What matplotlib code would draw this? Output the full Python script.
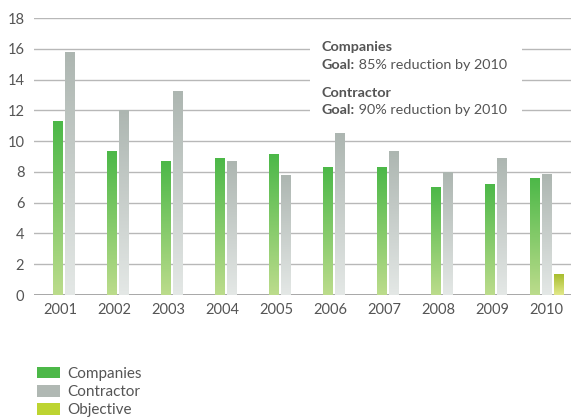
import matplotlib
matplotlib.use("Agg")
import matplotlib.pyplot as plt
import numpy as np
from matplotlib.colors import LinearSegmentedColormap
from matplotlib.patches import Patch, Rectangle

plt.rcParams["font.family"] = ["Lato", "DejaVu Sans"]

years = ["2001", "2002", "2003", "2004", "2005", "2006", "2007", "2008", "2009", "2010"]
companies = [11.25, 9.35, 8.65, 8.9, 9.15, 8.3, 8.3, 7.0, 7.2, 7.55]
contractor = [15.75, 12.0, 13.25, 8.65, 7.75, 10.5, 9.35, 7.95, 8.9, 7.85]
objective = [None, None, None, None, None, None, None, None, None, 1.3]
yticks = [0, 2, 4, 6, 8, 10, 12, 14, 16, 18]

# top colour -> bottom colour for each series, plus the flat legend colour
SERIES_STYLE = {
    "Companies": ("#4cb848", "#bcdc8c", "#4cb848"),
    "Contractor": ("#adb6b1", "#e4e8e6", "#b0b8b3"),
    "Objective": ("#a8be2e", "#e2e88a", "#bdd431"),
}

TEXT = "#555555"
GRID = "#b8b8b8"

fig = plt.figure(figsize=(5.71, 4.2), dpi=100)
ax = fig.add_axes([34 / 571, 0.2976, 537 / 571, 0.6594])

width = 0.167
step = 0.222

bars = []
for i, yr in enumerate(years):
    vals = [("Companies", companies[i]), ("Contractor", contractor[i])]
    if objective[i] is not None:
        vals.append(("Objective", objective[i]))
        offsets = [-step, 0, step]
    else:
        offsets = [-0.05, -0.05 + step]
    for (name, v), off in zip(vals, offsets):
        b = ax.bar(i + off, v, width=width, color="none", linewidth=0, zorder=3)[0]
        bars.append((b, name))

grad = np.linspace(0, 1, 256).reshape(-1, 1)
for b, name in bars:
    top, bottom, _ = SERIES_STYLE[name]
    cmap = LinearSegmentedColormap.from_list(name, [bottom, top])
    x0, y0 = b.get_x(), b.get_y()
    ax.imshow(grad, cmap=cmap, origin="lower", aspect="auto", zorder=3,
              extent=[x0, x0 + b.get_width(), y0, y0 + b.get_height()])

ax.set_xlim(-0.48, 9.46)
ax.set_ylim(0, 18)
ax.set_xticks(range(len(years)))
ax.set_xticklabels(years)
ax.set_yticks(yticks)
ax.tick_params(axis="both", length=0, colors=TEXT, labelsize=10.5)
ax.tick_params(axis="y", pad=7)
ax.tick_params(axis="x", pad=6)
for s in ax.spines.values():
    s.set_visible(False)
ax.yaxis.grid(True, color=GRID, linewidth=1.0)
ax.set_axisbelow(True)
ax.axhline(0, color="#a8a8a8", linewidth=1.4, zorder=2)

# white gap behind the goal note
ax.add_patch(Rectangle((0.514, 0.596), 0.395, 0.375, transform=ax.transAxes,
                       facecolor="white", edgecolor="none", zorder=1.5))

notes = [
    (0.880, 0.816, "Companies", "85% reduction by 2010"),
    (0.715, 0.653, "Contractor", "90% reduction by 2010"),
]
for y_head, y_goal, head, rest in notes:
    x = 0.536
    ax.text(x, y_head, head, transform=ax.transAxes, fontsize=10.4, fontweight="bold",
            color=TEXT, va="baseline", zorder=4)
    g = ax.text(x, y_goal, "Goal:", transform=ax.transAxes, fontsize=10.4,
                fontweight="bold", color=TEXT, va="baseline", zorder=4)
    ax.annotate(" " + rest, xy=(1, 0), xycoords=g, va="bottom", ha="left",
                fontsize=10.4, color=TEXT, zorder=4)

handles = [Patch(facecolor=SERIES_STYLE[n][2], edgecolor="none") for n in SERIES_STYLE]
fig.legend(handles, list(SERIES_STYLE), loc="upper left",
           bbox_to_anchor=(37 / 571, 1 - 367 / 420), frameon=False,
           fontsize=11, labelcolor=TEXT, handlelength=1.5, handleheight=0.78,
           handletextpad=0.5, labelspacing=0.27, borderpad=0, borderaxespad=0)

fig.savefig("out.png", dpi=100)
